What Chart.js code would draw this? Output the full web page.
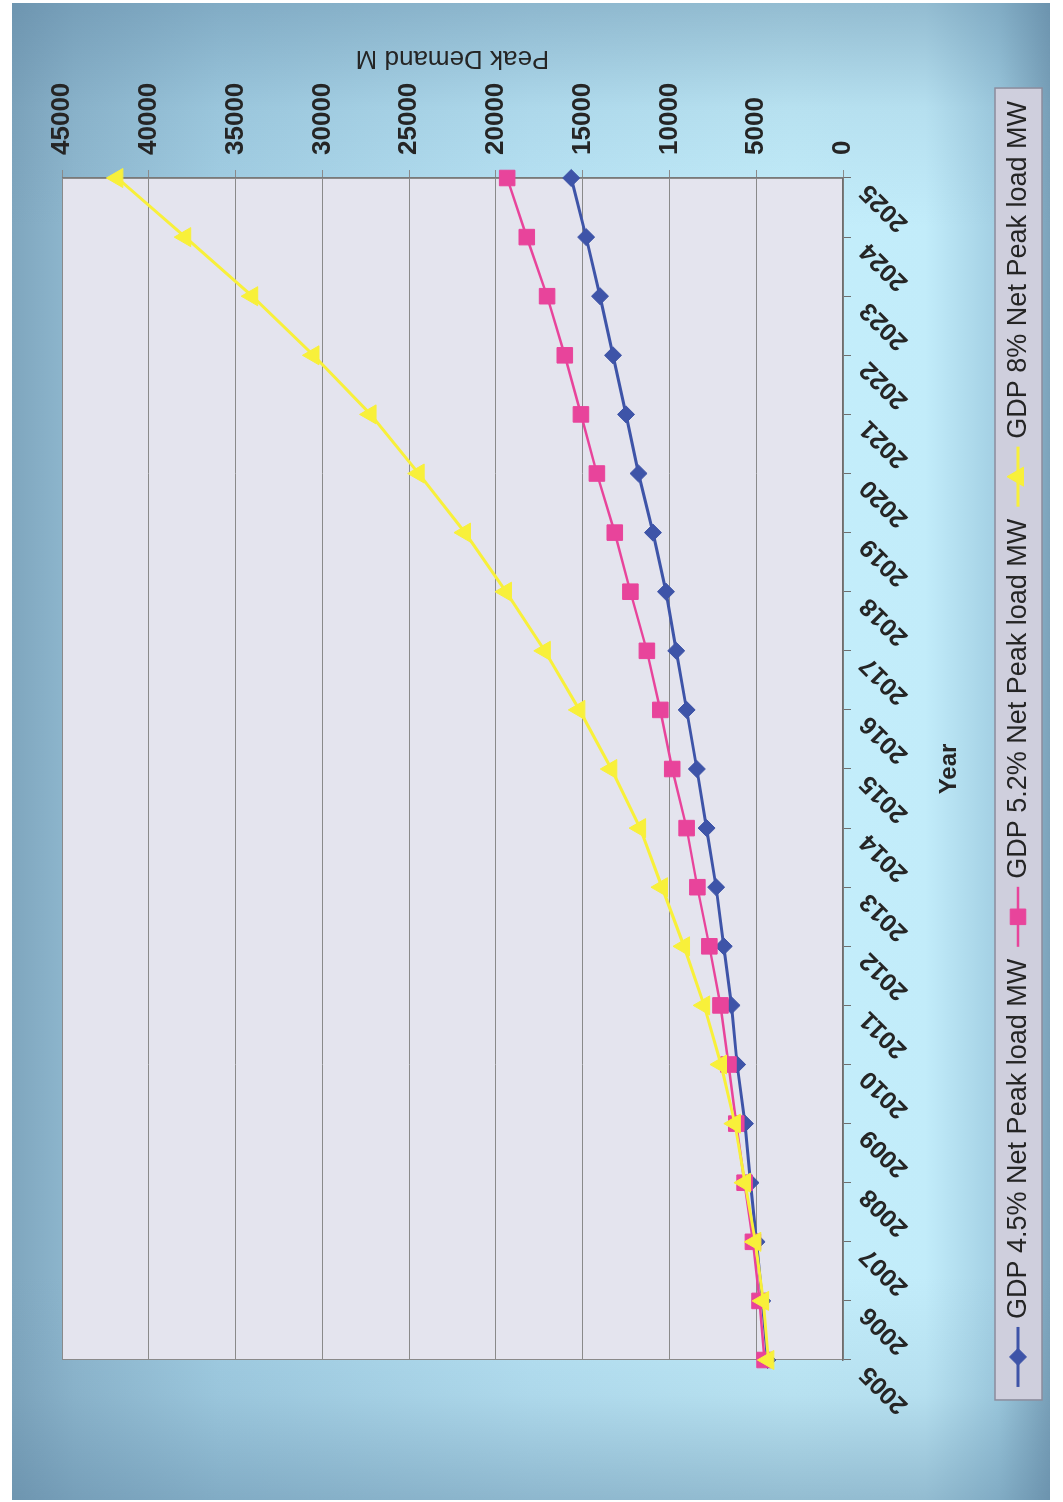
<!DOCTYPE html>
<html>
<head>
<meta charset="utf-8">
<title>Peak Demand Forecast</title>
<script src="https://cdn.jsdelivr.net/npm/chart.js@4.4.1/dist/chart.umd.min.js"></script>
<style>
  html, body { margin: 0; padding: 0; background: #ffffff; overflow: hidden; }
  #page { position: absolute; left: 0; top: 0; width: 1063px; height: 1502px; overflow: hidden; background: #ffffff; }
  /* the chart is laid out landscape and turned a quarter-turn counter-clockwise onto the portrait page */
  #turn { position: absolute; left: 0; top: 0; width: 1502px; height: 1063px;
          transform-origin: 0 0; transform: translate(0px, 1502px) rotate(-90deg); }
  canvas { display: block; }
</style>
</head>
<body>
<div id="page"><div id="turn"><canvas id="chart" width="1502" height="1063"></canvas></div></div>
<script>
// ---- data ----
const years = ['2005', '2006', '2007', '2008', '2009', '2010', '2011', '2012', '2013', '2014',
               '2015', '2016', '2017', '2018', '2019', '2020', '2021', '2022', '2023', '2024', '2025'];

const gdp45 = [4350, 4650, 4980, 5330, 5650, 6100, 6420, 6870, 7310, 7860,
               8420, 9010, 9610, 10200, 10950, 11780, 12500, 13250, 14000, 14800, 15660];

const gdp52 = [4520, 4810, 5190, 5670, 6150, 6600, 7060, 7700, 8390, 9010,
               9840, 10525, 11300, 12250, 13150, 14180, 15100, 16030, 17050, 18220, 19350];

const gdp8 = [4300, 4600, 5050, 5650, 6230, 7030, 8000, 9160, 10430, 11690,
              13350, 15190, 17180, 19420, 21780, 24450, 27220, 30510, 34040, 37900, 41810];

const seriesNames = ['GDP 4.5% Net Peak load MW', 'GDP 5.2% Net Peak load MW', 'GDP 8% Net Peak load MW'];
const valueAxis = { min: 0, max: 45000, step: 5000 };
const axisTitles = { x: 'Year', y: 'Peak Demand M' };

// ---- styling ----
const FONT = '"Liberation Sans", Arial, Helvetica, sans-serif';
const TEXT = '#252525';
const BLUE = '#3e54a8';
const PINK = '#e8449b';
const YELLOW = '#f8f03a';

Chart.defaults.font.family = FONT;
Chart.defaults.color = TEXT;

// blue gradient behind the whole chart, plus the plot-area fill and frame
const backdrop = {
  id: 'backdrop',
  beforeDraw(chart) {
    const ctx = chart.ctx;
    const x0 = 2, y0 = 12, x1 = 1499, y1 = 1050;
    ctx.save();
    // main band: steel blue at top and bottom edges, pale cyan toward the lower middle
    const gv = ctx.createLinearGradient(0, y0, 0, y1);
    gv.addColorStop(0, '#7fa6be');
    gv.addColorStop(0.06, '#8fb8cf');
    gv.addColorStop(0.2, '#a3cfe4');
    gv.addColorStop(0.5, '#b9e4f5');
    gv.addColorStop(0.75, '#c4eefb');
    gv.addColorStop(0.88, '#c2ecfa');
    gv.addColorStop(0.95, '#a2cfe3');
    gv.addColorStop(1, '#7ca3bb');
    ctx.fillStyle = gv;
    ctx.fillRect(x0, y0, x1 - x0, y1 - y0);
    // softer darkening toward the left and right ends
    const gh = ctx.createLinearGradient(x0, 0, x1, 0);
    gh.addColorStop(0, 'rgba(88,128,158,0.45)');
    gh.addColorStop(0.07, 'rgba(88,128,158,0.12)');
    gh.addColorStop(0.15, 'rgba(88,128,158,0)');
    gh.addColorStop(0.85, 'rgba(88,128,158,0)');
    gh.addColorStop(0.93, 'rgba(88,128,158,0.12)');
    gh.addColorStop(1, 'rgba(88,128,158,0.45)');
    ctx.fillStyle = gh;
    ctx.fillRect(x0, y0, x1 - x0, y1 - y0);

    const ca = chart.chartArea;
    ctx.fillStyle = '#e4e4ee';
    ctx.fillRect(ca.left, ca.top, ca.right - ca.left, ca.bottom - ca.top);
    ctx.strokeStyle = '#8a8a8a';
    ctx.lineWidth = 1;
    ctx.strokeRect(ca.left + 0.5, ca.top + 0.5, ca.right - ca.left - 1, ca.bottom - ca.top - 1);
    ctx.restore();
  }
};

// value-axis title, reading upward along the right-hand axis
const valueTitle = {
  id: 'valueTitle',
  afterDraw(chart) {
    const ctx = chart.ctx;
    const ys = chart.scales.y;
    const ca = chart.chartArea;
    ctx.save();
    ctx.translate(ys.right - 18, (ca.top + ca.bottom) / 2);
    ctx.rotate(-Math.PI / 2);
    ctx.font = '26px ' + FONT;
    ctx.fillStyle = TEXT;
    ctx.textAlign = 'center';
    ctx.textBaseline = 'middle';
    ctx.fillText(axisTitles.y, 0, 0);
    ctx.restore();
  }
};

// boxed legend with line-and-marker keys
const boxedLegend = {
  id: 'boxedLegend',
  afterDraw(chart) {
    const ctx = chart.ctx;
    const sets = chart.data.datasets;
    const font = '27px ' + FONT;
    const lineHalf = 30, markerToText = 38, itemGap = 12, pad = 13;
    const boxTop = 995, boxH = 47, midY = boxTop + boxH / 2 - 0.5;
    ctx.save();
    ctx.font = font;
    const widths = sets.map(d => ctx.measureText(d.label).width);
    const items = widths.map(w => lineHalf + markerToText + w);
    const content = items.reduce((a, b) => a + b, 0) + itemGap * (items.length - 1);
    const boxW = content + pad * 2;
    const boxLeft = 758 - boxW / 2;
    ctx.fillStyle = '#cfcfdd';
    ctx.fillRect(boxLeft, boxTop, boxW, boxH);
    ctx.strokeStyle = '#8c8c9c';
    ctx.lineWidth = 1.5;
    ctx.strokeRect(boxLeft, boxTop, boxW, boxH);
    let x = boxLeft + pad;
    sets.forEach((d, i) => {
      const mx = x + lineHalf;
      ctx.strokeStyle = d.borderColor;
      ctx.lineWidth = d.borderWidth;
      ctx.beginPath();
      ctx.moveTo(mx - lineHalf, midY);
      ctx.lineTo(mx + lineHalf, midY);
      ctx.stroke();
      ctx.fillStyle = d.pointBackgroundColor;
      ctx.strokeStyle = d.pointBorderColor;
      ctx.lineWidth = d.pointBorderWidth;
      Chart.helpers.drawPoint(ctx, { pointStyle: d.pointStyle, radius: d.pointRadius, rotation: 0, borderWidth: d.pointBorderWidth }, mx, midY);
      ctx.fillStyle = TEXT;
      ctx.font = font;
      ctx.textAlign = 'left';
      ctx.textBaseline = 'middle';
      ctx.fillText(d.label, mx + markerToText, midY + 1);
      x += items[i] + itemGap;
    });
    ctx.restore();
  }
};

const series = (label, data, color, style, radius, width, order) => ({
  label, data, order,
  borderColor: color, backgroundColor: color, borderWidth: width,
  pointStyle: style, pointRadius: radius, pointHoverRadius: radius,
  pointBackgroundColor: color, pointBorderColor: color, pointBorderWidth: 1,
  tension: 0, fill: false, clip: false
});

new Chart(document.getElementById('chart'), {
  type: 'line',
  data: {
    labels: years,
    datasets: [
      series(seriesNames[0], gdp45, BLUE, 'rectRot', 8.5, 3, 3),
      series(seriesNames[1], gdp52, PINK, 'rect', 11, 2.5, 2),
      series(seriesNames[2], gdp8, YELLOW, 'triangle', 11, 3, 1)
    ]
  },
  options: {
    responsive: false,
    animation: false,
    devicePixelRatio: 1,
    layout: { padding: { left: 142, top: 62, right: 40, bottom: 68 } },
    plugins: { legend: { display: false }, tooltip: { enabled: false } },
    scales: {
      x: {
        type: 'category',
        position: 'bottom',
        offset: false,
        grid: { display: true, drawOnChartArea: false, drawTicks: true, tickLength: 8, color: '#6e6e6e' },
        border: { display: true, color: '#6e6e6e', width: 1.5 },
        ticks: {
          autoSkip: false, minRotation: 45, maxRotation: 45, padding: 3, labelOffset: -10,
          color: TEXT, font: { size: 25, weight: 'bold' }
        },
        title: {
          display: true, text: axisTitles.x, color: TEXT,
          font: { size: 24, weight: 'bold' }, padding: { top: 0, bottom: 31 }
        },
        afterFit(scale) { scale.height = 152; }
      },
      y: {
        position: 'right',
        min: valueAxis.min,
        max: valueAxis.max,
        grid: { color: '#8a8a8a', lineWidth: 1, drawTicks: true, tickLength: 8 },
        border: { display: true, color: '#7a7a7a' },
        ticks: {
          stepSize: valueAxis.step, padding: 15, color: TEXT,
          font: { size: 26, weight: 'bold' },
          callback: v => String(v)
        },
        afterFit(scale) { scale.width = 138; }
      }
    }
  },
  plugins: [backdrop, valueTitle, boxedLegend]
});
</script>
</body>
</html>
